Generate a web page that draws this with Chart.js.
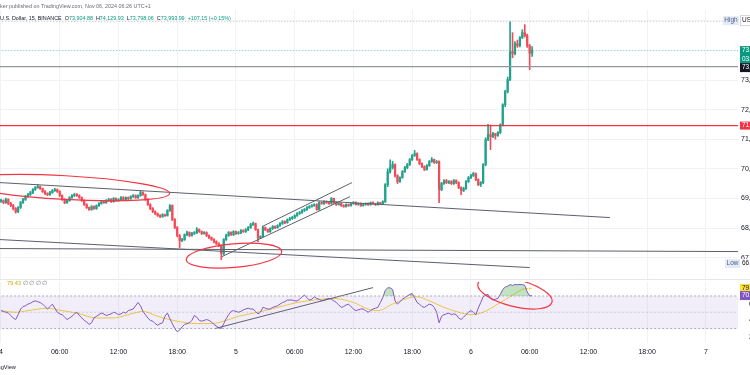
<!DOCTYPE html>
<html><head><meta charset="utf-8">
<script src="https://cdn.jsdelivr.net/npm/chart.js@4.4.1/dist/chart.umd.min.js"></script>
<style>
html,body{margin:0;padding:0;background:#fff;overflow:hidden;width:750px;height:375px;position:relative;font-family:"Liberation Sans",Arial,sans-serif;}
canvas{position:absolute;left:0;}
#main{top:0;}
#rsi{top:280px;}
.t{position:absolute;white-space:nowrap;line-height:1;}
.g{color:#089981}
</style></head><body>
<canvas id="main" width="800" height="280"></canvas>
<canvas id="rsi" width="800" height="95"></canvas>
<div class="t" style="top:4px;left:0;font-size:5.4px;color:#6a6d78">ker published on TradingView.com, Nov 06, 2024 06:26 UTC+1</div>
<div class="t" style="top:16px;left:0;font-size:5.4px;color:#131722">U.S. Dollar, 15, BINANCE &nbsp;O<span class="g">73,904.88</span> &nbsp;H<span class="g">74,129.93</span> &nbsp;L<span class="g">73,798.06</span> &nbsp;C<span class="g">73,993.99</span> &nbsp;<span class="g">+107.15 (+0.15%)</span></div>
<div class="t" style="top:281px;left:7px;font-size:5.6px;color:#c9a800">79.43 <span style="color:#787b86">&#8709; &#8709; &#8709; &#8709;</span></div>
<div class="t" style="top:365px;left:-15px;font-size:5.6px;color:#131722">TradingView</div>
<div style="position:absolute;left:0;top:279px;width:750px;height:1px;background:#e6e8ee"></div>
<script>
// ---- axis ticks ----
const candleMinutes = 15;
const timeTickHours = [0,6,12,18,24,30,36,42,48,54,60,66,72];
const timeTickLabels = ['4','06:00','12:00','18:00','5','06:00','12:00','18:00','6','06:00','12:00','18:00','7'];
const priceTicks = [67000,68000,69000,70000,71000,72000,73000,74000,75000];
const rsiTicks = [20,40,60,80];

// ---- 15-minute candles (Nov 4 00:00 onward) ----
const opens = [
68900,68926,68858,68960,68825,68757,68656,68554,68690,68858,
68960,69061,69129,69196,69298,69365,69399,69331,69230,69162,
69129,69196,69264,69298,69230,69095,68960,68858,68926,69027,
69095,69129,69095,69027,68926,68791,68690,68622,68723,68656,
68757,68825,68892,68858,68926,68960,68892,68994,68926,68960,
69027,68960,69027,68994,69061,69095,69027,69095,69196,69129,
68960,68791,68656,68554,68487,68419,68385,68453,68419,68588,
68757,68284,68014,67744,67575,67609,67777,67845,67744,67811,
67845,67946,67879,67811,67845,67744,67676,67609,67541,67474,
67406,67136,67609,67744,67845,67777,67879,67811,67845,67912,
67879,67946,68014,68115,68149,67946,67676,67710,68014,67946,
67879,67980,68047,68014,68081,68149,68216,68183,68284,68318,
68352,68419,68487,68521,68588,68622,68690,68723,68757,68791,
68622,68858,68825,68892,68858,68825,68994,68858,68791,68825,
68757,68723,68791,68757,68825,68858,68791,68825,68757,68791,
68825,68791,68858,68825,68791,68858,68825,68892,69466,69906,
70041,70142,69770,69568,69703,69906,70041,70142,70311,70446,
70514,70311,70176,70075,69973,70108,70243,70311,70210,70243,
69298,69500,69601,69534,69568,69500,69601,69534,69365,69264,
69331,69568,69703,69770,69838,69635,69466,69534,70142,70987,
71155,71088,71189,71122,71223,71493,72169,72608,73013,73959,
73892,74229,74162,74432,74601,74500,74162,73904.88];
const highs = [
68980,68950,69010,68990,68870,68800,68690,68720,68900,69000,
69100,69170,69240,69330,69400,69470,69420,69350,69260,69190,
69240,69300,69340,69320,69260,69120,68990,68960,69060,69130,
69170,69160,69120,69050,68950,68820,68710,68760,68750,68780,
68860,68930,68920,68960,69000,68990,69030,69020,68990,69060,
69060,69050,69050,69090,69130,69120,69120,69260,69220,69150,
68990,68820,68690,68580,68510,68450,68480,68470,68620,68790,
68780,68320,68050,67780,67650,67800,67900,67870,67850,67880,
68014,67970,67900,67880,67870,67770,67700,67640,67570,67500,
67430,67640,67790,67880,67870,67910,67900,67880,67950,67940,
67980,68050,68160,68200,68170,67960,67740,68050,68040,67970,
68010,68080,68070,68110,68180,68250,68240,68310,68360,68390,
68450,68520,68560,68620,68660,68720,68760,68790,68820,68820,
68890,68880,68920,68910,68870,69030,69010,68880,68850,68850,
68790,68820,68810,68850,68890,68880,68850,68850,68820,68850,
68850,68880,68880,68840,68880,68870,68920,69500,70000,70300,
70250,70170,69800,69730,69940,70080,70180,70350,70480,70620,
70540,70340,70200,70100,70140,70280,70380,70330,70280,70270,
69540,69640,69640,69600,69600,69640,69630,69560,69390,69380,
69600,69740,69810,69880,69860,69660,69570,70180,71050,71500,
71480,71230,71200,71260,71520,72200,72650,73100,74973,74600,
74300,74350,74470,74700,74871,74550,74200,74129.93];
const lows = [
68860,68820,68830,68790,68720,68610,68500,68520,68660,68830,
68930,69030,69100,69160,69270,69340,69300,69200,69130,69090,
69100,69170,69240,69200,69060,68930,68820,68830,68900,69000,
69060,69070,69000,68900,68760,68660,68590,68600,68630,68630,
68730,68800,68830,68830,68900,68860,68870,68900,68900,68940,
68930,68930,68960,68970,69030,69000,69000,69070,69100,68930,
68760,68620,68520,68450,68390,68350,68360,68390,68400,68560,
68250,67980,67700,67338,67540,67580,67740,67710,67720,67780,
67810,67850,67780,67790,67710,67640,67580,67500,67440,67370,
66933,67100,67580,67720,67750,67740,67780,67790,67810,67850,
67850,67910,67990,68090,67920,67541,67640,67690,67910,67850,
67850,67950,67980,67990,68050,68120,68150,68160,68250,68290,
68320,68390,68460,68490,68560,68590,68660,68700,68730,68600,
68600,68800,68800,68830,68800,68800,68830,68760,68770,68730,
68700,68700,68730,68740,68800,68770,68770,68730,68740,68770,
68760,68770,68800,68760,68770,68790,68800,68860,69400,69850,
69990,69720,69500,69540,69680,69880,70000,70110,70280,70420,
70280,70140,70040,69940,69950,70080,70220,70180,70180,68858,
69260,69470,69500,69500,69470,69470,69500,69330,69130,69230,
69300,69540,69670,69740,69600,69430,69400,69500,70100,70950,
70649,71050,71000,71090,71190,71450,72100,72560,72980,73750,
73850,74100,74120,74400,74450,74100,73351,73798.06];
const closes = [
68926,68858,68960,68825,68757,68656,68554,68690,68858,68960,
69061,69129,69196,69298,69365,69399,69331,69230,69162,69129,
69196,69264,69298,69230,69095,68960,68858,68926,69027,69095,
69129,69095,69027,68926,68791,68690,68622,68723,68656,68757,
68825,68892,68858,68926,68960,68892,68994,68926,68960,69027,
68960,69027,68994,69061,69095,69027,69095,69196,69129,68960,
68791,68656,68554,68487,68419,68385,68453,68419,68588,68757,
68284,68014,67744,67575,67609,67777,67845,67744,67811,67845,
67946,67879,67811,67845,67744,67676,67609,67541,67474,67406,
67136,67609,67744,67845,67777,67879,67811,67845,67912,67879,
67946,68014,68115,68149,67946,67676,67710,68014,67946,67879,
67980,68047,68014,68081,68149,68216,68183,68284,68318,68352,
68419,68487,68521,68588,68622,68690,68723,68757,68791,68622,
68858,68825,68892,68858,68825,68994,68858,68791,68825,68757,
68723,68791,68757,68825,68858,68791,68825,68757,68791,68825,
68791,68858,68825,68791,68858,68825,68892,69466,69906,70041,
70142,69770,69568,69703,69906,70041,70142,70311,70446,70514,
70311,70176,70075,69973,70108,70243,70311,70210,70243,69298,
69500,69601,69534,69568,69500,69601,69534,69365,69264,69331,
69568,69703,69770,69838,69635,69466,69534,70142,70987,71155,
71088,71189,71122,71223,71493,72169,72608,73013,73959,73892,
74229,74162,74432,74601,74500,74162,73904.88,73993.99];

// ---- RSI (14) and its moving average ----
const rsiVals = [
52,51,50,49,46,43,41,47,54,57, 58,60,61,63,64,63,62,60,57,54,
57,60,55,50,48,47,44,41,43,45, 48,50,46,43,40,38,35,37,43,45,
47,49,48,46,47,48,50,49,47,48, 50,49,52,53,54,58,62,58,51,47,
43,40,39,36,34,36,37,45,49,42, 36,30,26,28,32,35,36,37,40,46,
44,40,39,40,41,40,38,35,33,31, 30,36,42,47,51,52,51,50,51,53,
54,55,54,54,51,48,50,56,55,54, 54,56,57,58,60,62,63,65,65,65,
64,64,66,69,71,68,65,66,69,67, 66,64,65,66,67,66,64,62,59,56,
57,59,60,57,54,52,53,54,54,52, 50,52,54,55,56,62,68,77,80,80,
78,64,60,63,66,68,70,72,73,68, 62,60,57,56,58,60,59,56,50,37,
45,47,48,49,47,48,47,43,41,44, 47,50,52,50,47,55,62,69,71,72,
67,65,66,67,72,78,81,82,84,83, 84,84,84,84,83,75,70,70.52];
const maCandle = [0,6,11,19,25,31,39,46,52,58,64,72,80,86,91,97,105,113,121,128,136,144,150,154,160,166,170,175,181,187,192,197,203,209,214,217];
const maVals = [52,50,52,55,52,49,43,43,47,51,45,39,36,36,39,45,50,56,62,65,67,62,54,52,60,67,69,64,56,50,47,50,60,71,79,79.43];

// ---- drawings (data units: hours from Nov 4 00:00, price / RSI) ----
const upperTrend = [[-0.1,69534],[62.2,68352]];
const lowerTrend = [[-0.1,67609],[54.0,66663]];
const baseLine = [[-0.1,67305],[75.3,67203]];
const channelLow = [[22.57,67034],[35.65,69061]];
const channelHigh = [[26.66,68048],[35.85,69534]];
const redLevel = 71460;
const grayLevel = 73453;
const rsiTrend = [[21.86,30],[38.0,80.3]];
const priceEllipses = [{cx:6.54, cy:69365, rx:10.7, ry:400, angle:3.2},{cx:23.8, cy:67068, rx:4.9, ry:400, angle:-5}];
const rsiEllipses = [{cx:52.5, cy:73.7, rx:3.9, ry:16.6, angle:14}];

// ---- build ----
const FONT = 'Liberation Sans';
const UP = '#22a28c', DOWN = '#f44a57';
const xMin = -0.102, xMax = 75.28;
const tHours = closes.map((_, i) => i * candleMinutes / 60);
const candleColor = closes.map((c, i) => c >= opens[i] ? UP : DOWN);
const lastClose = closes[closes.length - 1];
const topHigh = Math.max(...highs);
const bottomLow = Math.min(...lows);
const fmt = v => v.toLocaleString('en-US', {minimumFractionDigits:2, maximumFractionDigits:2});

function seg(points, color, width, dash, order) {
  return {type:'line', data: points.map(([x,y]) => ({x, y})), borderColor: color, borderWidth: width,
          borderDash: dash || [], pointRadius: 0, fill: false, order: order == null ? 0 : order, tension: 0};
}
function hline(v, color, width, dash) { return seg([[xMin - 1, v],[xMax + 1, v]], color, width, dash, 0); }

const ellipsePlugin = {
  id: 'ellipses',
  afterDatasetsDraw(chart, args, opts) {
    const {ctx, chartArea: a, scales: {x, y}} = chart;
    ctx.save();
    ctx.beginPath(); ctx.rect(a.left, a.top, a.right - a.left, a.bottom - a.top); ctx.clip();
    ctx.strokeStyle = '#f23645'; ctx.lineWidth = 1.2;
    for (const e of opts.items) {
      const cx = x.getPixelForValue(e.cx), cy = y.getPixelForValue(e.cy);
      const rx = Math.abs(x.getPixelForValue(e.cx + e.rx) - cx);
      const ry = Math.abs(y.getPixelForValue(e.cy + e.ry) - cy);
      ctx.beginPath(); ctx.ellipse(cx, cy, rx, ry, e.angle * Math.PI / 180, 0, Math.PI * 2); ctx.stroke();
    }
    ctx.restore();
  }
};

function tag(ctx, left, cy, h, bg, fg, lines, border) {
  ctx.fillStyle = bg; ctx.fillRect(left, cy - h / 2, 70, h);
  if (border) { ctx.strokeStyle = border; ctx.lineWidth = 1; ctx.strokeRect(left + 0.5, cy - h / 2 + 0.5, 69, h - 1); }
  ctx.fillStyle = fg; ctx.textBaseline = 'middle'; ctx.textAlign = 'left';
  ctx.font = '6.5px ' + FONT;
  const lh = h / lines.length;
  lines.forEach((s, k) => ctx.fillText(s, left + 2, cy - h / 2 + lh * (k + 0.5)));
}

const mainTags = {
  id: 'mainTags',
  afterDraw(chart) {
    const {ctx, chartArea: a, scales: {y}} = chart;
    const L = a.right + 2;
    ctx.save();
    tag(ctx, L, y.getPixelForValue(lastClose) + 4, 17, '#089981', '#fff', [fmt(lastClose), '03:34']);
    tag(ctx, L, y.getPixelForValue(grayLevel) + 1, 9, '#131722', '#fff', [fmt(grayLevel)]);
    tag(ctx, L, y.getPixelForValue(redLevel), 8, '#f23645', '#fff', [fmt(redLevel)]);
    tag(ctx, L, y.getPixelForValue(topHigh) - 1, 11, '#fff', '#131722', ['USDT'], '#d1d4dc');
    const yl = y.getPixelForValue(bottomLow) + 4;
    tag(ctx, L, yl, 9, '#fff', '#131722', [fmt(bottomLow)]);
    ctx.font = '6.5px ' + FONT; ctx.textBaseline = 'middle'; ctx.textAlign = 'center';
    const yh = y.getPixelForValue(topHigh) - 1;
    ctx.fillStyle = '#e3ebfa'; ctx.fillRect(a.right - 15, yh - 4.5, 16, 9);
    ctx.fillStyle = '#56607a'; ctx.fillText('High', a.right - 7, yh);
    ctx.fillStyle = '#e3ebfa'; ctx.fillRect(a.right - 13, yl - 4.5, 15, 9);
    ctx.fillStyle = '#56607a'; ctx.fillText('Low', a.right - 5.5, yl);
    ctx.restore();
  }
};

const rsiTags = {
  id: 'rsiTags',
  afterDraw(chart) {
    const {ctx, chartArea: a, scales: {y}} = chart;
    const L = a.right + 2;
    ctx.save();
    tag(ctx, L, y.getPixelForValue(maVals[maVals.length - 1]), 9, '#f7e13b', '#131722', [fmt(maVals[maVals.length - 1])]);
    tag(ctx, L, y.getPixelForValue(rsiVals[rsiVals.length - 1]), 9, '#7e57c2', '#fff', [fmt(rsiVals[rsiVals.length - 1])]);
    ctx.restore();
  }
};

Chart.defaults.font.family = FONT;
Chart.defaults.animation = false;

const xGrid = {color:'#f1f2f6', drawTicks:false, offset:false};

new Chart(document.getElementById('main'), {
  type: 'bar',
  data: { datasets: [
    {type:'bar', data: tHours.map((x, i) => ({x, y:[lows[i], highs[i]]})), backgroundColor: candleColor,
     barThickness: 1, grouped: false, order: 3, borderWidth: 0},
    {type:'bar', data: tHours.map((x, i) => ({x, y:[opens[i], closes[i]]})), backgroundColor: candleColor,
     barThickness: 1.6, minBarLength: 1, grouped: false, order: 2, borderWidth: 0},
    hline(topHigh, '#b2b5be', 0.8, [1, 2]),
    hline(lastClose, 'rgba(8,153,129,0.55)', 0.8, [1, 2]),
    hline(grayLevel, '#9598a1', 1.2),
    hline(redLevel, '#f23645', 1.2),
    seg(upperTrend, '#5d606b', 1),
    seg(lowerTrend, '#5d606b', 1),
    seg(baseLine, '#5d606b', 1),
    seg(channelLow, '#5d606b', 1),
    seg(channelHigh, '#5d606b', 1)
  ]},
  options: {
    responsive: false, devicePixelRatio: 1,
    layout: {padding: {top: 10, bottom: 1, left: 0, right: 0}},
    plugins: {legend: {display: false}, tooltip: {enabled: false}, ellipses: {items: priceEllipses}},
    scales: {
      x: {type: 'linear', min: xMin, max: xMax, offset: false, grid: xGrid, border: {display: false},
          ticks: {display: false},
          afterBuildTicks: s => { s.ticks = timeTickHours.map(v => ({value: v})); },
          afterFit: s => { s.height = 0; s.paddingLeft = 0; s.paddingRight = 0; }},
      y: {position: 'right', min: 66277, max: 75365, grid: {color: '#f1f2f6', drawTicks: false}, border: {display: false},
          ticks: {padding: 3, color: '#131722', font: {size: 7}, callback: v => fmt(v)},
          afterBuildTicks: s => { s.ticks = priceTicks.map(v => ({value: v})); },
          afterFit: s => { s.width = 62; s.paddingTop = 0; s.paddingBottom = 0; }}
    }
  },
  plugins: [ellipsePlugin, mainTags]
});

new Chart(document.getElementById('rsi'), {
  type: 'line',
  data: { datasets: [
    hline(70, '#9598a1', 0.8, [2, 2]),
    Object.assign(hline(30, '#9598a1', 0.8, [2, 2]), {fill: '-1', backgroundColor: 'rgba(126,87,194,0.1)'}),
    hline(50, 'rgba(149,152,161,0.5)', 0.8, [2, 2]),
    {data: tHours.map((x, i) => ({x, y: rsiVals[i]})), borderColor: '#7e57c2', borderWidth: 1, pointRadius: 0,
     fill: {target: {value: 70}, above: 'rgba(76,175,80,0.35)', below: 'rgba(0,0,0,0)'}, order: 1},
    {data: maCandle.map((k, j) => ({x: k * candleMinutes / 60, y: maVals[j]})), borderColor: '#f7d13b', borderWidth: 1,
     pointRadius: 0, fill: false, tension: 0.4, cubicInterpolationMode: 'monotone', order: 2},
    seg(rsiTrend, '#5d606b', 1)
  ]},
  options: {
    responsive: false, devicePixelRatio: 1,
    layout: {padding: {top: 2, bottom: 0, left: 0, right: 0}},
    plugins: {legend: {display: false}, tooltip: {enabled: false}, ellipses: {items: rsiEllipses}},
    scales: {
      x: {type: 'linear', min: xMin, max: xMax, grid: xGrid, border: {display: false},
          ticks: {color: '#131722', font: {size: 7}, padding: 5, maxRotation: 0, autoSkip: false,
                  callback: v => timeTickLabels[timeTickHours.indexOf(v)]},
          afterBuildTicks: s => { s.ticks = timeTickHours.map(v => ({value: v})); },
          afterFit: s => { s.height = 32; s.paddingLeft = 0; s.paddingRight = 0; }},
      y: {position: 'right', min: 12.2, max: 87.2, grid: {display: false}, border: {display: false},
          ticks: {padding: 3, color: '#131722', font: {size: 7}, callback: v => fmt(v)},
          afterBuildTicks: s => { s.ticks = rsiTicks.map(v => ({value: v})); },
          afterFit: s => { s.width = 62; s.paddingTop = 0; s.paddingBottom = 0; }}
    }
  },
  plugins: [ellipsePlugin, rsiTags]
});
</script>
</body></html>
